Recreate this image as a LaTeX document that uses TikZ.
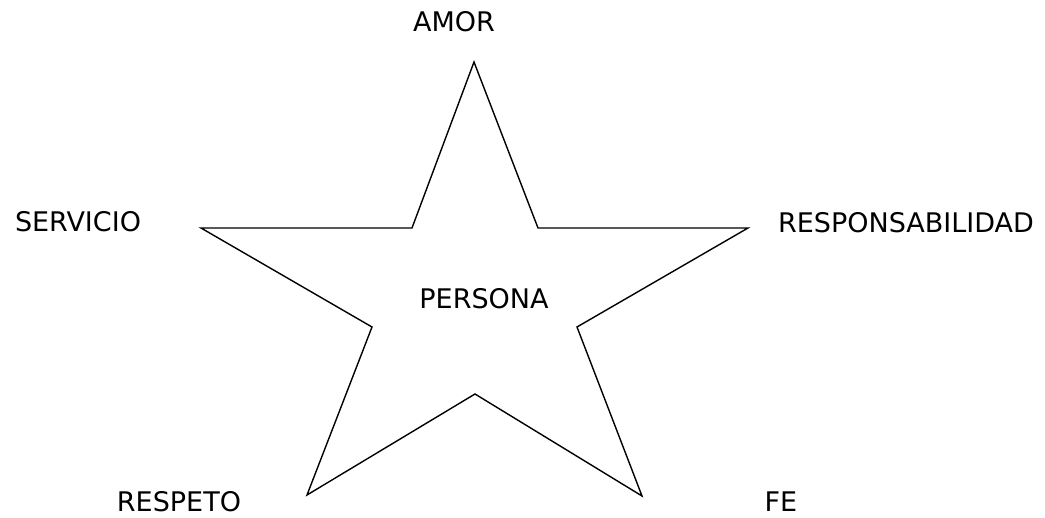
\documentclass[tikz,border=0pt]{standalone}
\usepackage{fontspec}
\setmainfont{DejaVu Sans}
\usetikzlibrary{positioning}
\tikzset{
  font=\fontsize{27}{32}\selectfont,
  estrella/.style={draw=black,line width=1.4pt,line join=miter},
  valor/.style={inner sep=0pt,anchor=base},
}
\begin{document}
\begin{tikzpicture}[x=1pt,y=-1pt]
\useasboundingbox (0,0) rectangle (1045,518);

\draw[estrella] (474,62) -- (538,228) -- (748,228) -- (577,327) -- (642,496)
  -- (475,394) -- (307,495) -- (372,327) -- (201,228) -- (412,228) -- cycle;

\node[valor] (amor)    at (454,32)  {AMOR};
\node[valor] (servicio) at (78,232) {SERVICIO};
\node[valor] (resp)    at (906,233) {RESPONSABILIDAD};
\node[valor] (persona) at (484,309) {PERSONA};
\node[valor] (respeto) at (179,512) {RESPETO};
\node[valor] (fe)      at (781,512) {FE};

\end{tikzpicture}
\end{document}
